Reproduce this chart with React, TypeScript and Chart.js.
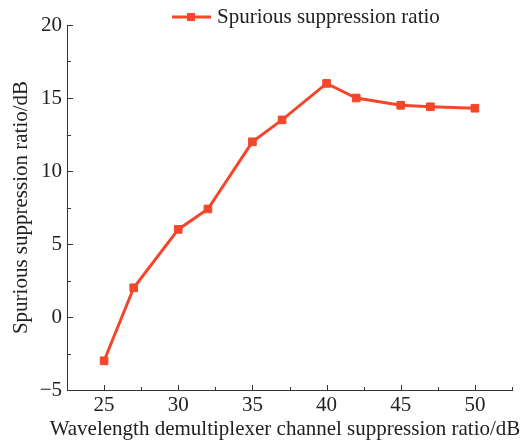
import React, { useEffect, useRef } from "react";
import { Chart, registerables } from "chart.js";

Chart.register(...registerables);

const xValues = [25, 27, 30, 32, 35, 37, 40, 42, 45, 47, 50];
const yValues = [-3, 2, 6, 7.4, 12, 13.5, 16, 15, 14.5, 14.4, 14.3];
const seriesName = "Spurious suppression ratio";
const xTitle = "Wavelength demultiplexer channel suppression ratio/dB";
const yTitle = "Spurious suppression ratio/dB";

const RED = "#F2472A";
const AXIS = "#333333";
const TEXT = "#222222";
const FONT = "'Liberation Serif', 'Times New Roman', serif";

const ticksPlugin = {
  id: "innerTicks",
  afterDraw(chart: any) {
    const ctx = chart.ctx;
    const area = chart.chartArea;
    const xs = chart.scales.x;
    const ys = chart.scales.y;
    ctx.save();
    ctx.strokeStyle = AXIS;
    ctx.lineWidth = 1;
    xs.ticks.forEach((t: any) => {
      const px = Math.round(xs.getPixelForValue(t.value)) + 0.5;
      const len = Math.abs(t.value % 5) < 1e-6 ? 5 : 3;
      ctx.beginPath();
      ctx.moveTo(px, area.bottom);
      ctx.lineTo(px, area.bottom - len);
      ctx.stroke();
    });
    ys.ticks.forEach((t: any) => {
      const py = Math.round(ys.getPixelForValue(t.value)) + 0.5;
      const len = Math.abs(t.value % 5) < 1e-6 ? 6 : 4;
      ctx.beginPath();
      ctx.moveTo(area.left, py);
      ctx.lineTo(area.left + len, py);
      ctx.stroke();
    });
    // x axis title
    ctx.fillStyle = TEXT;
    ctx.font = `21px ${FONT}`;
    ctx.textAlign = "center";
    ctx.textBaseline = "alphabetic";
    ctx.fillText(xTitle, 285, 435);
    ctx.restore();
  },
};

const legendPlugin = {
  id: "customLegend",
  afterDraw(chart: any) {
    const ctx = chart.ctx;
    const y = 17;
    ctx.save();
    ctx.strokeStyle = RED;
    ctx.lineWidth = 3;
    ctx.beginPath();
    ctx.moveTo(172, y);
    ctx.lineTo(211, y);
    ctx.stroke();
    ctx.fillStyle = RED;
    ctx.fillRect(187, y - 4, 8, 8);
    ctx.fillStyle = TEXT;
    ctx.font = `21px ${FONT}`;
    ctx.textAlign = "left";
    ctx.textBaseline = "middle";
    ctx.fillText(seriesName, 217, y);
    ctx.restore();
  },
};

export default function App() {
  const canvasRef = useRef<HTMLCanvasElement | null>(null);

  useEffect(() => {
    if (!canvasRef.current) return;
    const chart = new Chart(canvasRef.current, {
      type: "line",
      data: {
        datasets: [
          {
            label: seriesName,
            data: xValues.map((x, i) => ({ x, y: yValues[i] })),
            borderColor: RED,
            backgroundColor: RED,
            borderWidth: 3,
            pointStyle: "rect",
            pointRadius: 5.4,
            pointBorderWidth: 1,
            pointBorderColor: RED,
            pointBackgroundColor: RED,
            tension: 0,
          },
        ],
      },
      options: {
        animation: false,
        responsive: false,
        maintainAspectRatio: false,
        layout: { padding: { top: 25, right: 20, left: 0, bottom: 0 } },
        plugins: {
          legend: { display: false },
          tooltip: { enabled: false },
        },
        scales: {
          x: {
            type: "linear",
            min: 22.5,
            max: 52.5,
            afterFit: (s: any) => {
              s.height = 51;
            },
            border: { display: true, color: AXIS, width: 1 },
            grid: { display: false, drawTicks: false },
            ticks: {
              stepSize: 2.5,
              autoSkip: false,
              maxRotation: 0,
              padding: 3,
              color: TEXT,
              font: { family: FONT, size: 21 },
              callback: (v: any) => (Math.abs(Number(v) % 5) < 1e-6 ? String(v) : ""),
            },
            title: { display: false },
          },
          y: {
            type: "linear",
            min: -5,
            max: 20,
            afterFit: (s: any) => {
              s.width = 67;
            },
            border: { display: true, color: AXIS, width: 1 },
            grid: { display: false, drawTicks: false },
            ticks: {
              stepSize: 2.5,
              autoSkip: false,
              padding: 5,
              color: TEXT,
              font: { family: FONT, size: 21 },
              callback: (v: any) => {
                const n = Number(v);
                if (Math.abs(n % 5) > 1e-6) return "";
                return n < 0 ? "\u2212" + Math.abs(n) : String(n);
              },
            },
            title: {
              display: true,
              text: yTitle,
              color: TEXT,
              font: { family: FONT, size: 21 },
              padding: { top: 9, bottom: 0 },
            },
          },
        },
      },
      plugins: [ticksPlugin, legendPlugin],
    });
    return () => chart.destroy();
  }, []);

  return (
    <div style={{ position: "fixed", left: 0, top: 0, width: 532, height: 441, background: "#fff" }}>
      <canvas ref={canvasRef} width={532} height={441} style={{ width: 532, height: 441 }} />
    </div>
  );
}
